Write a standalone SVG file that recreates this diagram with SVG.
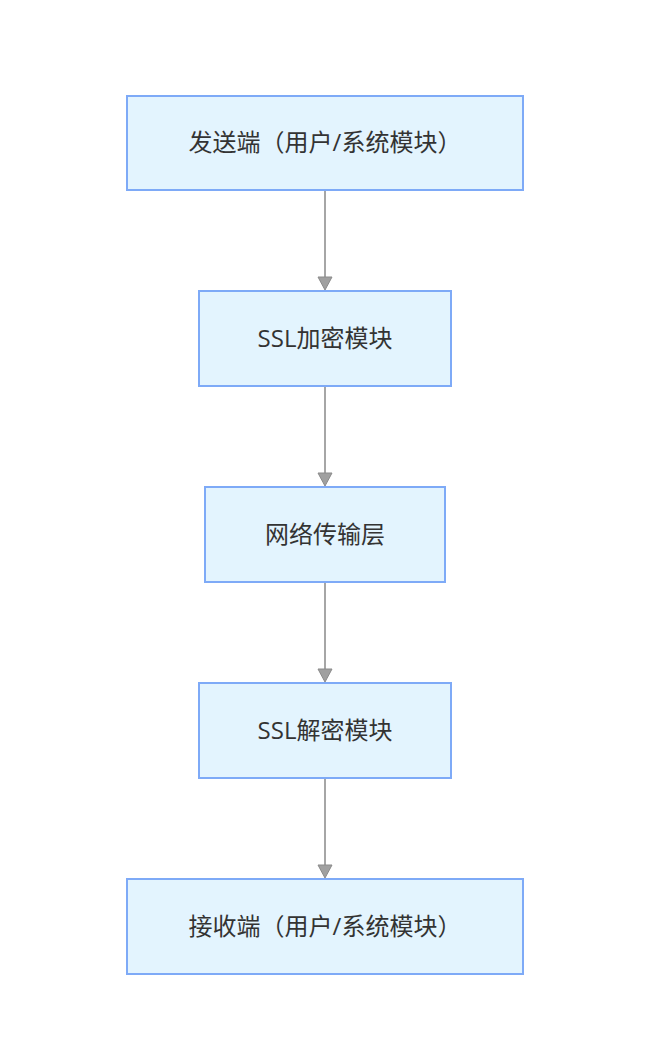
<svg xmlns="http://www.w3.org/2000/svg" width="650" height="1049" viewBox="0 0 650 1049">
<style>
.box{fill:#e3f4fe;stroke:#7eaaf7;stroke-width:2}
.lbl{font-family:"Open Sans","Noto Sans CJK SC",sans-serif;font-size:24px;font-weight:400;fill:#333;text-anchor:middle}
.edge{stroke:#a6a6a6;stroke-width:2;fill:none}
.head{fill:#a0a0a0;stroke:#8a8a8a;stroke-width:1}
</style>
<rect width="650" height="1049" fill="#fff"/>
<g id="connectors">
<line class="edge" x1="325" y1="191" x2="325" y2="277"/>
<path class="head" d="M318,277 L332,277 L325,290 Z"/>
<line class="edge" x1="325" y1="387" x2="325" y2="473"/>
<path class="head" d="M318,473 L332,473 L325,486 Z"/>
<line class="edge" x1="325" y1="583" x2="325" y2="669"/>
<path class="head" d="M318,669 L332,669 L325,682 Z"/>
<line class="edge" x1="325" y1="779" x2="325" y2="865"/>
<path class="head" d="M318,865 L332,865 L325,878 Z"/>
</g>
<g id="sender">
<rect class="box" x="127" y="96" width="396" height="94"/>
<text class="lbl" x="325" y="151">发送端（用户/系统模块）</text>
</g>
<g id="ssl-encrypt">
<rect class="box" x="199" y="291" width="252" height="95"/>
<text class="lbl" x="325" y="347">SSL加密模块</text>
</g>
<g id="network">
<rect class="box" x="205" y="487" width="240" height="95"/>
<text class="lbl" x="325" y="543">网络传输层</text>
</g>
<g id="ssl-decrypt">
<rect class="box" x="199" y="683" width="252" height="95"/>
<text class="lbl" x="325" y="739">SSL解密模块</text>
</g>
<g id="receiver">
<rect class="box" x="127" y="879" width="396" height="95"/>
<text class="lbl" x="325" y="935">接收端（用户/系统模块）</text>
</g>
</svg>
